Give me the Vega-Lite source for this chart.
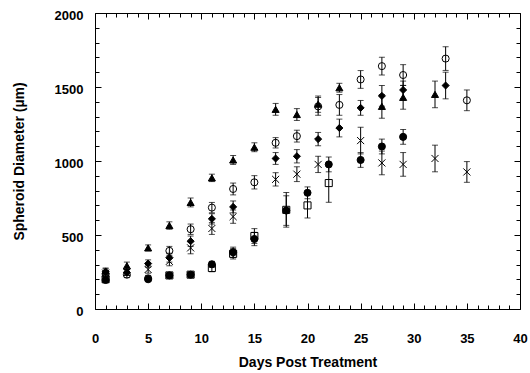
{
  "$schema": "https://vega.github.io/schema/vega-lite/v6.json",
  "width": 425,
  "height": 296,
  "autosize": {"type": "none"},
  "padding": {"left": 95, "top": 13, "right": 10, "bottom": 64},
  "background": "white",
  "config": {
    "view": {"stroke": "black", "strokeWidth": 1},
    "axis": {
      "domain": false,
      "grid": false,
      "gridColor": "black",
      "gridOpacity": 1,
      "gridWidth": 1,
      "ticks": false,
      "tickSize": 0,
      "labelColor": "black",
      "labelFont": "Liberation Sans",
      "labelFontWeight": "bold",
      "labelFontSize": 13,
      "titleFont": "Liberation Sans",
      "titleFontWeight": "bold",
      "titleFontSize": 14,
      "titleColor": "black",
      "labelOverlap": false,
      "labelFlush": false
    }
  },
  "data": {
    "values": [
      {"day": 1, "value": 257, "err": 20, "series": "tri"},
      {"day": 3, "value": 292, "err": 25, "series": "tri"},
      {"day": 5, "value": 413, "err": 20, "series": "tri"},
      {"day": 7, "value": 564, "err": 25, "series": "tri"},
      {"day": 9, "value": 720, "err": 30, "series": "tri"},
      {"day": 11, "value": 886, "err": 25, "series": "tri"},
      {"day": 13, "value": 1007, "err": 30, "series": "tri"},
      {"day": 15, "value": 1093, "err": 30, "series": "tri"},
      {"day": 17, "value": 1349, "err": 40, "series": "tri"},
      {"day": 19, "value": 1314, "err": 40, "series": "tri"},
      {"day": 21, "value": 1384, "err": 55, "series": "tri"},
      {"day": 23, "value": 1495, "err": 30, "series": "tri"},
      {"day": 27, "value": 1369, "err": 80, "series": "tri"},
      {"day": 29, "value": 1430, "err": 80, "series": "tri"},
      {"day": 32, "value": 1450, "err": 90, "series": "tri"},

      {"day": 1, "value": 237, "err": 20, "series": "ocirc"},
      {"day": 3, "value": 232, "err": 20, "series": "ocirc"},
      {"day": 5, "value": 207, "err": 20, "series": "ocirc"},
      {"day": 7, "value": 393, "err": 30, "series": "ocirc"},
      {"day": 9, "value": 539, "err": 35, "series": "ocirc"},
      {"day": 11, "value": 685, "err": 35, "series": "ocirc"},
      {"day": 13, "value": 811, "err": 40, "series": "ocirc"},
      {"day": 15, "value": 856, "err": 45, "series": "ocirc"},
      {"day": 17, "value": 1123, "err": 35, "series": "ocirc"},
      {"day": 19, "value": 1168, "err": 40, "series": "ocirc"},
      {"day": 21, "value": 1369, "err": 60, "series": "ocirc"},
      {"day": 23, "value": 1379, "err": 70, "series": "ocirc"},
      {"day": 25, "value": 1551, "err": 60, "series": "ocirc"},
      {"day": 27, "value": 1641, "err": 60, "series": "ocirc"},
      {"day": 29, "value": 1581, "err": 70, "series": "ocirc"},
      {"day": 33, "value": 1692, "err": 80, "series": "ocirc"},
      {"day": 35, "value": 1410, "err": 70, "series": "ocirc"},

      {"day": 1, "value": 252, "err": 20, "series": "diam"},
      {"day": 3, "value": 247, "err": 20, "series": "diam"},
      {"day": 5, "value": 307, "err": 25, "series": "diam"},
      {"day": 7, "value": 347, "err": 30, "series": "diam"},
      {"day": 9, "value": 458, "err": 35, "series": "diam"},
      {"day": 11, "value": 609, "err": 35, "series": "diam"},
      {"day": 13, "value": 690, "err": 40, "series": "diam"},
      {"day": 17, "value": 1017, "err": 40, "series": "diam"},
      {"day": 19, "value": 1032, "err": 45, "series": "diam"},
      {"day": 21, "value": 1148, "err": 45, "series": "diam"},
      {"day": 23, "value": 1223, "err": 60, "series": "diam"},
      {"day": 25, "value": 1359, "err": 50, "series": "diam"},
      {"day": 27, "value": 1440, "err": 70, "series": "diam"},
      {"day": 29, "value": 1480, "err": 60, "series": "diam"},
      {"day": 33, "value": 1510, "err": 90, "series": "diam"},

      {"day": 1, "value": 242, "err": 20, "series": "x"},
      {"day": 3, "value": 247, "err": 20, "series": "x"},
      {"day": 5, "value": 267, "err": 25, "series": "x"},
      {"day": 7, "value": 322, "err": 30, "series": "x"},
      {"day": 9, "value": 413, "err": 40, "series": "x"},
      {"day": 11, "value": 544, "err": 40, "series": "x"},
      {"day": 13, "value": 624, "err": 45, "series": "x"},
      {"day": 17, "value": 876, "err": 45, "series": "x"},
      {"day": 19, "value": 911, "err": 50, "series": "x"},
      {"day": 21, "value": 977, "err": 55, "series": "x"},
      {"day": 25, "value": 1138, "err": 90, "series": "x"},
      {"day": 27, "value": 987, "err": 80, "series": "x"},
      {"day": 29, "value": 977, "err": 80, "series": "x"},
      {"day": 32, "value": 1017, "err": 90, "series": "x"},
      {"day": 35, "value": 926, "err": 70, "series": "x"},

      {"day": 1, "value": 196, "err": 15, "series": "fcirc"},
      {"day": 5, "value": 201, "err": 15, "series": "fcirc"},
      {"day": 7, "value": 227, "err": 15, "series": "fcirc"},
      {"day": 9, "value": 232, "err": 15, "series": "fcirc"},
      {"day": 11, "value": 302, "err": 20, "series": "fcirc"},
      {"day": 13, "value": 383, "err": 35, "series": "fcirc"},
      {"day": 15, "value": 473, "err": 45, "series": "fcirc"},
      {"day": 18, "value": 665, "err": 100, "series": "fcirc"},
      {"day": 20, "value": 785, "err": 40, "series": "fcirc"},
      {"day": 22, "value": 977, "err": 50, "series": "fcirc"},
      {"day": 25, "value": 1007, "err": 50, "series": "fcirc"},
      {"day": 27, "value": 1098, "err": 50, "series": "fcirc"},
      {"day": 29, "value": 1163, "err": 50, "series": "fcirc"},

      {"day": 1, "value": 201, "err": 15, "series": "osq"},
      {"day": 7, "value": 227, "err": 15, "series": "osq"},
      {"day": 9, "value": 232, "err": 15, "series": "osq"},
      {"day": 11, "value": 277, "err": 25, "series": "osq"},
      {"day": 13, "value": 373, "err": 35, "series": "osq"},
      {"day": 15, "value": 493, "err": 50, "series": "osq"},
      {"day": 18, "value": 670, "err": 117, "series": "osq"},
      {"day": 20, "value": 700, "err": 85, "series": "osq"},
      {"day": 22, "value": 851, "err": 130, "series": "osq"}
    ]
  },
  "layer": [
    {
      "mark": {"type": "errorbar", "ticks": {"size": 6, "thickness": 1}, "color": "black", "thickness": 1},
      "encoding": {
        "x": {
          "field": "day", "type": "quantitative",
          "scale": {"domain": [0, 40], "nice": false},
          "axis": {
            "orient": "bottom",
            "values": [0,1,2,3,4,5,6,7,8,9,10,11,12,13,14,15,16,17,18,19,20,21,22,23,24,25,26,27,28,29,30,31,32,33,34,35,36,37,38,39,40],
            "labelExpr": "datum.value % 5 === 0 ? datum.label : ''",
            "grid": true,
            "gridDash": {"condition": {"test": "datum.value % 5 === 0", "value": [6, 284, 6]}, "value": [4, 288, 4]},
            "labelPadding": 23,
            "title": "Days Post Treatment",
            "titlePadding": 10
          }
        },
        "y": {
          "field": "value", "type": "quantitative",
          "scale": {"domain": [0, 2000], "nice": false},
          "axis": {
            "orient": "left",
            "values": [0,100,200,300,400,500,600,700,800,900,1000,1100,1200,1300,1400,1500,1600,1700,1800,1900,2000],
            "labelExpr": "datum.value % 500 === 0 ? datum.label : ''",
            "format": "d",
            "grid": true,
            "gridDash": {"condition": {"test": "datum.value % 500 === 0", "value": [6, 413, 6]}, "value": [4, 417, 4]},
            "labelPadding": 12,
            "labelOffset": 2,
            "title": "Spheroid Diameter (µm)",
            "titlePadding": 28
          }
        },
        "yError": {"field": "err"}
      }
    },
    {
      "mark": {"type": "point", "stroke": "black", "strokeWidth": 1, "opacity": 1, "size": 50},
      "encoding": {
        "x": {
          "field": "day", "type": "quantitative",
          "axis": {
            "orient": "top",
            "values": [0, 40],
            "labels": false,
            "grid": false,
            "title": null
          }
        },
        "y": {
          "field": "value", "type": "quantitative",
          "axis": {
            "orient": "right",
            "values": [0, 2000],
            "labels": false,
            "grid": false,
            "title": null
          }
        },
        "shape": {
          "field": "series", "type": "nominal", "legend": null,
          "scale": {
            "domain": ["tri", "ocirc", "diam", "x", "fcirc", "osq"],
            "range": ["triangle-up", "circle", "diamond", "M-1,-1L1,1M-1,1L1,-1", "circle", "square"]
          }
        },
        "fill": {
          "field": "series", "type": "nominal", "legend": null,
          "scale": {
            "domain": ["tri", "ocirc", "diam", "x", "fcirc", "osq"],
            "range": ["black", "transparent", "black", "transparent", "black", "transparent"]
          }
        }
      }
    }
  ],
  "resolve": {"axis": {"x": "independent", "y": "independent"}}
}
